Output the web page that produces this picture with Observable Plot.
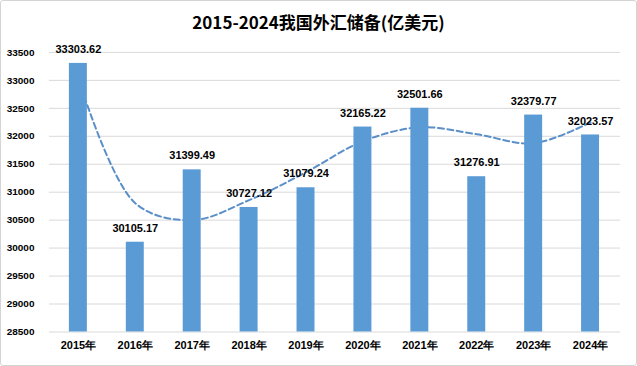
<!DOCTYPE html>
<html>
<head>
<meta charset="utf-8">
<script src="https://cdn.jsdelivr.net/npm/d3@7"></script>
<script src="https://cdn.jsdelivr.net/npm/@observablehq/plot@0.6"></script>
<style>
  html, body { margin: 0; padding: 0; background: #fff; }
  #wrap { position: relative; width: 637px; height: 366px; box-sizing: border-box; border: 1px solid #d4d4d4; border-radius: 3px; background: #fff; overflow: hidden; }
  #title { position: absolute; left: 0; top: 9px; width: 100%; text-align: center; font-family: "Noto Sans CJK SC", sans-serif; font-weight: bold; font-size: 17px; color: #000; line-height: 24px; }
  #chart { position: absolute; left: -1px; top: -1px; }
</style>
</head>
<body>
<div id="wrap">
  <div id="title">2015-2024我国外汇储备(亿美元)</div>
  <div id="chart"></div>
</div>
<script>
const years = ["2015年","2016年","2017年","2018年","2019年","2020年","2021年","2022年","2023年","2024年"];
const reserves = [33303.62, 30105.17, 31399.49, 30727.12, 31079.24, 32165.22, 32501.66, 31276.91, 32379.77, 32023.57];
const trend = [33036, 30804, 30500, 30857, 31357, 31911, 32161, 32036, 31875, 32250];
const yTicks = [28500, 29000, 29500, 30000, 30500, 31000, 31500, 32000, 32500, 33000, 33500];

const data = years.map((y, i) => ({year: y, value: reserves[i], trend: trend[i]}));

const chart = Plot.plot({
  width: 637,
  height: 366,
  marginTop: 52,
  marginBottom: 34,
  marginLeft: 49,
  marginRight: 16,
  style: {background: "transparent", fontFamily: "'Liberation Sans', Arial, sans-serif"},
  x: {domain: years, paddingInner: 0.68, paddingOuter: 0.34, label: null},
  y: {domain: [28500, 33500], label: null},
  marks: [
    Plot.gridY(yTicks, {stroke: "#d9d9d9", strokeOpacity: 1}),
    Plot.lineY(data, {x: "year", y: "trend", stroke: "#5b8fc9", strokeWidth: 2, strokeDasharray: "6,3.5", curve: "catmull-rom"}),
    Plot.barY(data, {x: "year", y1: 28500, y2: "value", fill: "#5b9bd5"}),
    Plot.text(data, {x: "year", y: "value", text: d => d.value.toFixed(2), dy: -14, fontSize: 11, fontWeight: "bold", fill: "#000"}),
    Plot.axisY({ticks: yTicks, tickSize: 0, tickPadding: 15, tickFormat: d => String(d), fontSize: 10, fontWeight: "bold", fill: "#000"}),
    Plot.axisX({tickSize: 0, tickPadding: 9, fontSize: 11, fontWeight: "bold", fill: "#000"})
  ]
});
document.getElementById("chart").appendChild(chart);
</script>
</body>
</html>
